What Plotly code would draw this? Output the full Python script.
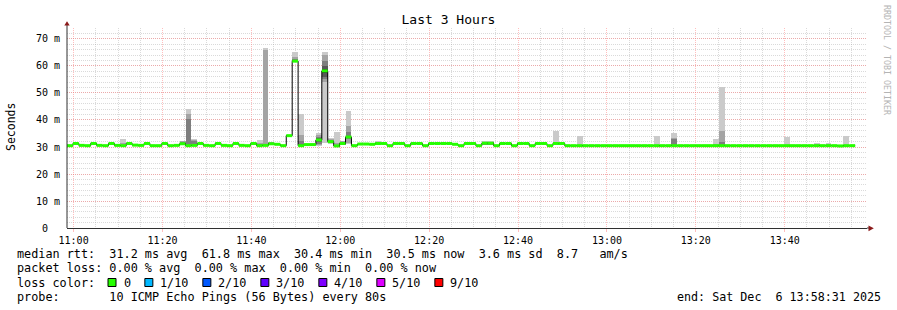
import plotly.graph_objects as go
import pandas as pd

# ---------------- data ----------------
T_START = "2025-12-06 10:58:31"
T_END = "2025-12-06 13:58:31"
STEP_SECONDS = 80

# median rtt per 80 s step (ms); the last two steps of the window have no data
median_ms = [
    30.5, 31.3, 30.6, 30.5, 31.3, 30.6, 30.5, 31.3, 30.6, 30.5,
    31.3, 30.7, 30.6, 31.3, 30.5, 30.5, 31.3, 30.5, 30.6, 31.2,
    30.5, 30.6, 31.3, 30.6, 30.5, 31.3, 30.6, 30.5, 31.3, 30.6,
    30.5, 31.3, 30.5, 30.6, 31.2, 31.0, 30.5, 34.2, 61.8, 30.5,
    30.9, 30.9, 32.6, 58.2, 32.0, 30.4, 31.3, 33.7, 30.5, 31.1,
    31.1, 31.0, 31.3, 31.3, 30.5, 31.3, 31.3, 30.5, 31.3, 31.3,
    30.5, 31.3, 31.3, 31.3, 31.3, 31.0, 30.5, 31.3, 31.3, 30.5,
    31.4, 31.4, 30.5, 31.3, 31.3, 30.5, 31.3, 31.3, 30.5, 31.3,
    31.3, 30.5, 31.3, 31.3, 30.5, 30.5, 30.5, 30.5, 30.5, 30.5,
    30.5, 30.5, 30.5, 30.5, 30.5, 30.5, 30.5, 30.5, 30.5, 30.5,
    30.5, 30.5, 30.5, 30.5, 30.5, 30.5, 30.5, 30.5, 30.5, 30.5,
    30.5, 30.5, 30.5, 30.5, 30.5, 30.5, 30.5, 30.5, 30.5, 30.5,
    30.5, 30.5, 30.5, 30.5, 30.5, 30.5, 30.5, 30.5, 30.5, 30.5,
    30.4, 30.5, 30.5,
]

# steps with visible smoke and their 10 sorted ping times (ms)
smoke_steps = [9, 19, 20, 21, 32, 33, 34, 37, 38, 39, 42, 43, 44, 45, 46, 47,
               52, 70, 71, 82, 86, 99, 102, 109, 110, 121, 126, 128, 131]
smoke_pings = [
    [30.3, 30.4, 30.5, 30.5, 30.5, 30.6, 30.6, 30.7, 31.5, 33.0],
    [30.9, 31.0, 31.1, 31.2, 31.2, 31.3, 31.4, 32.0, 32.2, 32.3],
    [30.4, 30.5, 30.5, 30.5, 30.5, 30.5, 30.6, 40.4, 42.2, 44.0],
    [30.5, 30.5, 30.6, 30.6, 30.6, 30.6, 30.7, 32.3, 32.5, 32.8],
    [30.3, 30.4, 30.5, 30.5, 30.5, 30.6, 30.7, 30.9, 31.5, 32.5],
    [30.4, 30.5, 30.5, 30.6, 30.6, 30.7, 30.8, 31.0, 66.0, 66.5],
    [30.8, 31.0, 31.1, 31.2, 31.2, 31.3, 31.4, 31.5, 31.8, 32.0],
    [33.8, 34.0, 34.1, 34.2, 34.2, 34.2, 34.3, 34.4, 34.5, 34.6],
    [61.5, 61.6, 61.7, 61.8, 61.8, 61.8, 62.0, 62.5, 63.5, 65.3],
    [30.2, 30.3, 30.4, 30.5, 30.5, 30.6, 30.8, 32.1, 34.6, 42.1],
    [30.3, 30.6, 31.0, 32.0, 32.5, 32.7, 33.3, 33.8, 34.5, 35.3],
    [31.6, 54.0, 55.0, 56.0, 57.5, 58.9, 60.0, 62.0, 64.0, 65.0],
    [31.0, 31.3, 31.5, 31.8, 32.0, 32.1, 32.3, 32.6, 33.0, 33.4],
    [30.1, 30.2, 30.3, 30.3, 30.4, 30.4, 30.6, 30.8, 31.5, 35.4],
    [30.9, 31.0, 31.1, 31.2, 31.3, 31.3, 31.4, 31.6, 32.1, 32.3],
    [31.2, 31.5, 33.0, 33.4, 33.6, 33.8, 34.2, 35.4, 37.7, 43.3],
    [30.9, 31.0, 31.1, 31.2, 31.3, 31.3, 31.4, 31.5, 31.8, 32.4],
    [30.9, 31.0, 31.1, 31.2, 31.4, 31.4, 31.5, 31.6, 31.9, 32.3],
    [30.9, 31.0, 31.1, 31.2, 31.4, 31.4, 31.5, 31.6, 31.9, 32.3],
    [30.8, 31.0, 31.1, 31.2, 31.3, 31.3, 31.4, 31.6, 32.0, 36.1],
    [30.2, 30.3, 30.4, 30.5, 30.5, 30.5, 30.6, 30.7, 30.9, 34.2],
    [30.2, 30.3, 30.4, 30.5, 30.5, 30.5, 30.6, 30.7, 30.9, 34.0],
    [30.2, 30.3, 30.4, 30.5, 30.5, 30.5, 30.6, 33.0, 33.2, 35.0],
    [30.2, 30.3, 30.4, 30.5, 30.5, 30.5, 30.6, 30.7, 31.0, 32.8],
    [30.2, 30.3, 30.4, 30.5, 30.5, 30.5, 30.6, 32.0, 36.1, 52.1],
    [30.2, 30.3, 30.4, 30.5, 30.5, 30.5, 30.6, 30.7, 30.9, 33.6],
    [30.3, 30.4, 30.4, 30.5, 30.5, 30.5, 30.6, 30.7, 30.9, 31.3],
    [30.3, 30.4, 30.4, 30.5, 30.5, 30.5, 30.6, 30.7, 30.9, 31.3],
    [30.2, 30.3, 30.4, 30.5, 30.5, 30.5, 30.6, 30.7, 30.9, 34.2],
]
smoke_shades = ["#cacaca", "#a4a4a4", "#7e7e7e", "#585858", "#323232"]

y_tick_vals = [0, 10, 20, 30, 40, 50, 60, 70]
y_tick_text = [" 0  ", "10 m", "20 m", "30 m", "40 m", "50 m", "60 m", "70 m"]

loss_labels = ["0", "1/10", "2/10", "3/10", "4/10", "5/10", "9/10"]
loss_colors = ["#26ff00", "#00b8ff", "#0059ff", "#5e00ff", "#7e00ff", "#dd00ff", "#ff0000"]

legend_lines = [
    "median rtt:  31.2 ms avg  61.8 ms max  30.4 ms min  30.5 ms now  3.6 ms sd  8.7   am/s",
    "packet loss: 0.00 % avg  0.00 % max  0.00 % min  0.00 % now",
    "loss color:",
    "probe:       10 ICMP Echo Pings (56 Bytes) every 80s",
]
end_text = "end: Sat Dec  6 13:58:31 2025"
title_text = "Last 3 Hours"
y_title = "Seconds"
credit_text = "RRDTOOL / TOBI OETIKER"

# ---------------- layout geometry ----------------
W, H = 897, 310
PL, PR, PT, PB = 67, 867, 28, 228   # plot area in pixels
Y_MAX = 74.07
MONO = "DejaVu Sans Mono"
LEG_SIZE = 11.8


def nb(s):
    return s.replace(" ", "\u00a0")


def px_x(p):
    return (p - PL) / (PR - PL)


def px_y(p):
    return (PB - p) / (PB - PT)


t0 = pd.Timestamp(T_START)
step = pd.Timedelta(seconds=STEP_SECONDS)
starts = [t0 + step * k for k in range(len(median_ms))]
ends = [s + step for s in starts]
centers = [s + step / 2 for s in starts]

fig = go.Figure()

# smoke: outer band first, darker inner bands on top
for lvl in range(5):
    xs, bases, hs = [], [], []
    for k, p in zip(smoke_steps, smoke_pings):
        lo, hi = p[lvl], p[9 - lvl]
        if hi - lo > 0:
            xs.append(centers[k])
            bases.append(lo)
            hs.append(hi - lo)
    fig.add_trace(go.Bar(
        x=xs, y=hs, base=bases, width=STEP_SECONDS * 1000,
        marker=dict(color=smoke_shades[lvl], line=dict(width=0)),
        hoverinfo="skip", showlegend=False,
    ))

# black median step line
fig.add_trace(go.Scatter(
    x=starts + [ends[-1]], y=median_ms + [median_ms[-1]],
    mode="lines", line=dict(color="#000000", width=1, shape="hv"),
    hoverinfo="skip", showlegend=False,
))

# loss-coloured median bands (loss is 0 everywhere -> green)
gx, gy = [], []
for s, e, m in zip(starts, ends, median_ms):
    gx += [s, e, None]
    gy += [m, m, None]
fig.add_trace(go.Scatter(
    x=gx, y=gy, mode="lines", line=dict(color=loss_colors[0], width=3),
    hoverinfo="skip", showlegend=False,
))

major_grid = "rgba(255,110,110,0.45)"
minor_grid = "rgba(150,150,150,0.35)"

fig.update_xaxes(
    range=[T_START, T_END], type="date",
    tickmode="linear", tick0="2025-12-06 11:00:00", dtick=20 * 60 * 1000,
    tickformat="%H:%M",
    showgrid=True, gridcolor=major_grid, griddash="1px,1px", gridwidth=1,
    minor=dict(tickmode="linear", tick0="2025-12-06 11:00:00", dtick=5 * 60 * 1000,
               showgrid=True, gridcolor=minor_grid, griddash="1px,1px", gridwidth=1),
    showline=True, linecolor="#303030", linewidth=1,
    ticks="outside", ticklen=3, tickcolor=major_grid,
    tickfont=dict(family=MONO, size=10, color="#000000"),
    zeroline=False, fixedrange=True,
)
fig.update_yaxes(
    range=[0, Y_MAX],
    tickmode="array", tickvals=y_tick_vals, ticktext=[nb(t) for t in y_tick_text],
    showgrid=True, gridcolor=major_grid, griddash="1px,1px", gridwidth=1,
    minor=dict(tickmode="linear", tick0=0, dtick=2,
               showgrid=True, gridcolor=minor_grid, griddash="1px,1px", gridwidth=1),
    showline=False, ticks="", ticklabelstandoff=6,
    tickfont=dict(family=MONO, size=10, color="#000000"),
    zeroline=False, fixedrange=True,
)

shapes = []
# y axis line with arrow
shapes.append(dict(type="line", xref="paper", yref="paper",
                   x0=0, x1=0, y0=0, y1=px_y(24), line=dict(color="#303030", width=1)))
shapes.append(dict(type="path", xref="paper", yref="paper",
                   path=f"M {px_x(64.3)} {px_y(25.6)} L {px_x(69.7)} {px_y(25.6)} L {px_x(67)} {px_y(21.2)} Z",
                   fillcolor="#8b1a1a", line=dict(width=0)))
shapes.append(dict(type="line", xref="paper", yref="paper",
                   x0=1, x1=px_x(869), y0=0, y1=0, line=dict(color="#303030", width=1)))
shapes.append(dict(type="path", xref="paper", yref="paper",
                   path=f"M {px_x(868.5)} {px_y(225.4)} L {px_x(868.5)} {px_y(231.2)} L {px_x(873.8)} {px_y(228.3)} Z",
                   fillcolor="#8b1a1a", line=dict(width=0)))

annotations = []
CH = 7.05
row_y = [254.3, 268.4, 282.5, 296.7]
for ln, yy in zip(legend_lines, row_y):
    annotations.append(dict(text=nb(ln), xref="paper", yref="paper",
                            x=px_x(16), y=px_y(yy), xanchor="left", yanchor="middle",
                            showarrow=False, borderpad=0,
                            font=dict(family=MONO, size=LEG_SIZE, color="#000000")))
annotations.append(dict(text=nb(end_text), xref="paper", yref="paper",
                        x=px_x(675.5), y=px_y(row_y[3]), xanchor="left", yanchor="middle",
                        showarrow=False, borderpad=0,
                        font=dict(family=MONO, size=LEG_SIZE - 0.1, color="#000000")))

# loss colour legend boxes
pos = 108.0
for lab, col in zip(loss_labels, loss_colors):
    shapes.append(dict(type="rect", xref="paper", yref="paper",
                       x0=px_x(pos), x1=px_x(pos + 8), y0=px_y(286.5), y1=px_y(278.5),
                       fillcolor=col, line=dict(color="#000000", width=1)))
    tx = pos + 14.5
    annotations.append(dict(text=nb(lab), xref="paper", yref="paper",
                            x=px_x(tx), y=px_y(row_y[2]), xanchor="left", yanchor="middle",
                            showarrow=False, borderpad=0,
                            font=dict(family=MONO, size=LEG_SIZE, color="#000000")))
    pos = tx + len(lab) * CH + 15.3

# y title
annotations.append(dict(text=y_title, xref="paper", yref="paper",
                        x=px_x(11), y=px_y(127), xanchor="center", yanchor="middle",
                        textangle=-90, showarrow=False,
                        font=dict(family=MONO, size=11.5, color="#000000")))
# credit
annotations.append(dict(text=nb(credit_text), xref="paper", yref="paper",
                        x=px_x(886.5), y=px_y(59.5), xanchor="center", yanchor="middle",
                        textangle=90, showarrow=False,
                        font=dict(family=MONO, size=8.3, color="#b4b4b4")))

fig.update_layout(
    width=W, height=H,
    margin=dict(l=PL, r=W - PR, t=PT, b=H - PB, pad=0),
    paper_bgcolor="#ffffff", plot_bgcolor="#ffffff",
    barmode="overlay", bargap=0,
    showlegend=False,
    title=dict(text=title_text, x=0.5, xref="container", xanchor="center",
               y=1 - 19.5 / H, yref="container", yanchor="middle",
               font=dict(family=MONO, size=13, color="#000000")),
    shapes=shapes, annotations=annotations,
)

fig.write_html("out.html", include_plotlyjs=True, config={"displayModeBar": False})
